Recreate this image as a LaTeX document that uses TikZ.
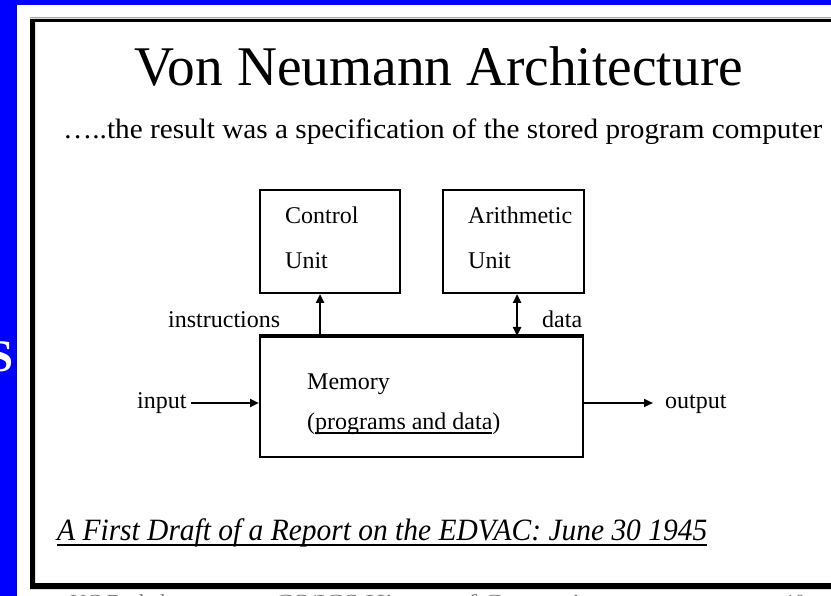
\documentclass[tikz,border=0pt]{standalone}
\usepackage{fontspec}
\usepackage{graphicx}
\setmainfont{Liberation Serif}
\usetikzlibrary{arrows.meta,calc}

\definecolor{slideblue}{RGB}{0,0,255}
% stretch or squeeze a line of text to a given width, keeping its height
\newcommand{\fitw}[2]{\resizebox{#1}{\height}{#2}}
% heavy underline set below the baseline
\newcommand{\thickul}[3]{\setbox0\hbox{#3}\rlap{\rule[-#1]{\wd0}{#2}}\box0}

\begin{document}
\begin{tikzpicture}[x=1pt,y=-1pt,
  box/.style={draw=black,line width=2pt,inner sep=0pt},
  lbl/.style={inner sep=0pt,anchor=base west,font=\fontsize{24}{28}\selectfont},
  foot/.style={inner sep=0pt,anchor=base west,text=black!55},
  tip/.style={Triangle[length=9pt,width=8pt]},
  arr/.style={line width=2.4pt,-{Triangle[length=9pt,width=8pt]}},
  darr/.style={line width=2.4pt,{Triangle[length=9pt,width=8pt]}-{Triangle[length=9pt,width=8pt]}}]
\useasboundingbox (0,0) rectangle (831,596);
\clip (0,0) rectangle (831,596);

% blue backdrop and white slide page
\fill[slideblue] (0,0) rectangle (831,596);
\fill[white] (17,5) rectangle (831,596);
\node[text=white,font=\bfseries\fontsize{45}{50}\selectfont,anchor=base east,inner sep=0pt] (sfrag) at (14,372) {S};

% slide frame (open on the right)
\draw[black!35,line width=0.8pt] (30,17) -- (831,17);
\fill[black,even odd rule] (30,19) rectangle (840,589) (35,22) rectangle (840,583);

% headings
\node[anchor=base,inner sep=0pt] (title) at (439,86)
  {\fitw{608pt}{\fontsize{56}{60}\selectfont Von Neumann Architecture}};
\node[anchor=base west,inner sep=0pt] (sub) at (63,139)
  {\fitw{759pt}{\fontsize{28}{32}\selectfont …..the result was a specification of the stored program computer}};

% units
\node[box,minimum width=140pt,minimum height=103pt] (ctl) at (330,241.5) {};
\node[box,minimum width=141pt,minimum height=103pt] (alu) at (513.5,241.5) {};
\node[box,minimum width=323pt,minimum height=120pt] (mem) at (421.5,397) {};
\draw[line width=3pt] (mem.north west) -- (mem.north east);

\node[lbl] (ctlA) at (285,224) {Control};
\node[lbl] (ctlB) at (285,269) {Unit};
\node[lbl] (aluA) at (468,224) {Arithmetic};
\node[lbl] (aluB) at (468,269) {Unit};
\node[lbl] (memA) at (307,390) {Memory};
\node[lbl] (memB) at (307,429) {(\thickul{5pt}{2pt}{programs and data})};

\node[lbl] (ins) at (168,328) {instructions};
\node[lbl] (dat) at (542,328) {data};
\node[lbl] (inp) at (137,408) {input};
\node[lbl] (outp) at (665,408) {output};

% connectors
\coordinate (ia) at ($(ctl.south west)!0.43!(ctl.south east)$);
\draw[arr] (ia |- mem.north) -- (ia);
\coordinate (da) at ($(alu.south west)!0.525!(alu.south east)$);
\draw[darr] (da |- mem.north) -- (da);
\coordinate (inS) at (191,403);
\draw[arr] (inS) -- (inS -| mem.west);
\coordinate (outE) at (653,403);
\draw[arr] (outE -| mem.east) -- (outE);

% source line
\node[anchor=base west,inner sep=0pt] (draft) at (57,540)
  {\fitw{650pt}{\fontsize{31}{36}\selectfont\itshape\thickul{6pt}{2.5pt}{A First Draft of a Report on the EDVAC: June 30 1945}}};

% footer, cut by the page edge
\node[foot] (f1) at (70,608) {\fitw{117pt}{\fontsize{20}{24}\selectfont UC Berkeley}};
\node[foot] (f2) at (275,608) {\fitw{332pt}{\fontsize{20}{24}\selectfont CS/ICS History of Computing}};
\node[foot] (f3) at (785,608) {\fontsize{20}{24}\selectfont 10};
\end{tikzpicture}
\end{document}
